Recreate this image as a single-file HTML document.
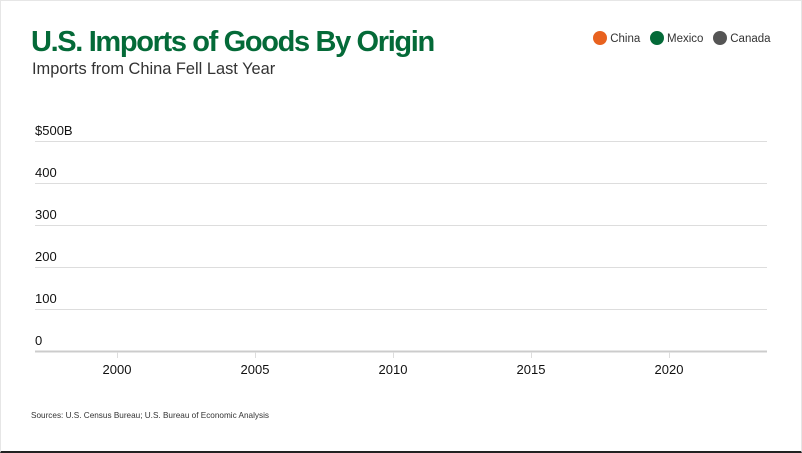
<!DOCTYPE html>
<html><head><style>
html,body{margin:0;padding:0;background:#fff}
body{width:802px;height:452px;position:relative;overflow:hidden;font-family:"Liberation Sans",sans-serif}
.frame{position:absolute;left:0;top:0;width:800px;height:450px;border:1px solid #e6e6e6;border-bottom:2px solid #222;box-sizing:content-box}
.t{position:absolute;white-space:nowrap}
</style></head><body>
<div class="frame"></div>
<div class="t" style="left:31px;top:26px;font-size:29px;font-weight:bold;color:#046a38;letter-spacing:-1.35px">U.S. Imports of Goods By Origin</div>
<div class="t" style="left:32px;top:60px;font-size:16.4px;color:#333">Imports from China Fell Last Year</div>
<div class="t" style="left:593px;top:31px;font-size:11.5px;color:#333">
<span style="display:inline-block;width:14px;height:14px;border-radius:50%;background:#e8621f;vertical-align:-3px"></span> China&nbsp;&nbsp;
<span style="display:inline-block;width:14px;height:14px;border-radius:50%;background:#046a38;vertical-align:-3px"></span> Mexico&nbsp;&nbsp;
<span style="display:inline-block;width:14px;height:14px;border-radius:50%;background:#555;vertical-align:-3px"></span> Canada</div>
<svg width="802" height="452" style="position:absolute;left:0;top:0" font-family="Liberation Sans, sans-serif" font-size="13" fill="#111">
<g stroke="#ddd" stroke-width="1">
<line x1="35" x2="767" y1="141.5" y2="141.5"/><line x1="35" x2="767" y1="183.5" y2="183.5"/>
<line x1="35" x2="767" y1="225.5" y2="225.5"/><line x1="35" x2="767" y1="267.5" y2="267.5"/>
<line x1="35" x2="767" y1="309.5" y2="309.5"/>
<line x1="35" x2="767" y1="351.5" y2="351.5" stroke="#ccc" stroke-width="2"/>
<line x1="117.5" x2="117.5" y1="352" y2="358"/><line x1="255.5" x2="255.5" y1="352" y2="358"/>
<line x1="393.5" x2="393.5" y1="352" y2="358"/><line x1="531.5" x2="531.5" y1="352" y2="358"/>
<line x1="669.5" x2="669.5" y1="352" y2="358"/>
</g>
<text x="35" y="135">$500B</text><text x="35" y="177">400</text><text x="35" y="219">300</text>
<text x="35" y="261">200</text><text x="35" y="303">100</text><text x="35" y="345">0</text>
<g text-anchor="middle"><text x="117" y="374">2000</text><text x="255" y="374">2005</text><text x="393" y="374">2010</text><text x="531" y="374">2015</text><text x="669" y="374">2020</text></g>
<text x="31" y="418" font-size="8.2" fill="#333">Sources: U.S. Census Bureau; U.S. Bureau of Economic Analysis</text>
</svg>
</body></html>
